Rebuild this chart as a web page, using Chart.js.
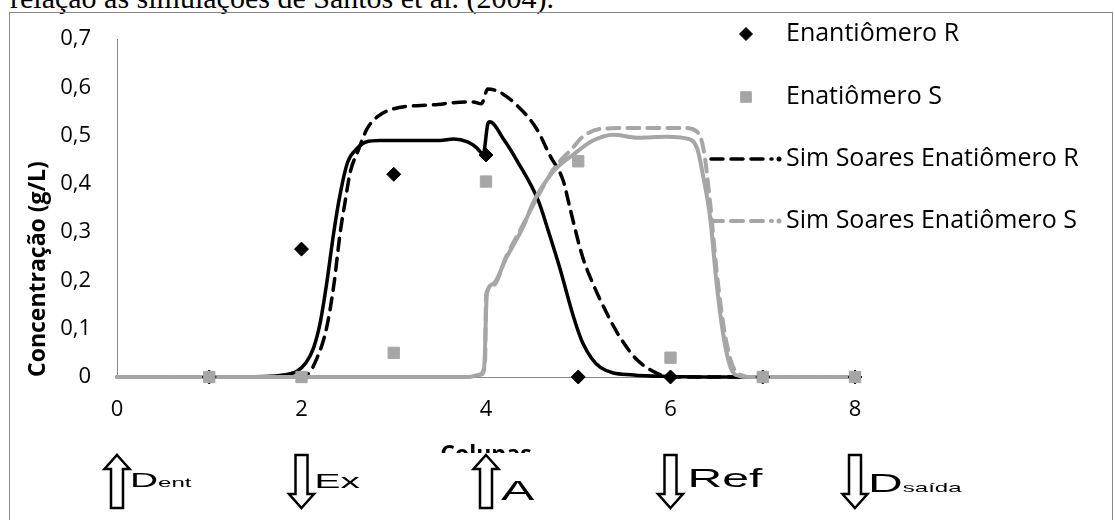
<!DOCTYPE html>
<html lang="pt-BR">
<head>
<meta charset="utf-8">
<script src="https://cdn.jsdelivr.net/npm/chart.js@4/dist/chart.umd.min.js"></script>
<style>
  html, body { margin: 0; padding: 0; background: #fff; }
  body { width: 1115px; height: 520px; position: relative; overflow: hidden; }
  #texto-acima { position: absolute; left: 10px; top: -17px; font: 30px 'Liberation Serif', 'Times New Roman', serif; line-height: 30px; white-space: nowrap; color: #000; }
  #grafico { position: absolute; left: 0; top: 0; }
  #moldura { position: absolute; left: 9px; top: 12px; width: 1104px; height: 520px; border: 1px solid #898989; box-sizing: border-box; pointer-events: none; }
</style>
</head>
<body>
<div id="texto-acima">relação às simulações de Santos et al. (2004).</div>
<canvas id="grafico" width="1115" height="520"></canvas>
<div id="moldura"></div>
<script>
// Rótulos dos eixos
const rotulosX = ['0', '2', '4', '6', '8'];
const rotulosY = ['0', '0,1', '0,2', '0,3', '0,4', '0,5', '0,6', '0,7'];

// Pontos experimentais (colunas 1 a 8)
const colunas = [1, 2, 3, 4, 5, 6, 7, 8];
const expR = [0, 0.265, 0.42, 0.46, 0, 0, 0, 0];
const expS = [0, 0, 0.05, 0.405, 0.447, 0.04, 0, 0];

// Simulação (linha cheia preta) - enantiômero R
const xSimR = [0, 1, 1.6, 1.8, 1.95, 2.05, 2.13, 2.2, 2.27, 2.35, 2.42, 2.5, 2.6, 2.7, 2.85, 3.2, 3.5, 3.65, 3.8, 3.9, 3.97, 4.02, 4.04, 4.2, 4.34, 4.57, 4.68, 4.8, 4.95, 5.05, 5.24, 5.6, 6, 6.5, 8];
const ySimR = [0, 0, 0.001, 0.004, 0.012, 0.03, 0.06, 0.11, 0.19, 0.30, 0.38, 0.445, 0.473, 0.487, 0.49, 0.49, 0.49, 0.493, 0.487, 0.475, 0.462, 0.525, 0.529, 0.49, 0.447, 0.364, 0.30, 0.226, 0.124, 0.07, 0.02, 0.004, 0.001, 0, 0];

// Simulação (linha cheia cinza) - enantiômero S
const xSimS = [0, 3.8, 3.93, 3.98, 4.01, 4.08, 4.22, 4.4, 4.52, 4.73, 4.94, 5.16, 5.38, 5.64, 5.96, 6.18, 6.29, 6.36, 6.43, 6.5, 6.57, 6.65, 6.75, 6.85, 8];
const ySimS = [0, 0, 0.005, 0.02, 0.173, 0.193, 0.247, 0.31, 0.365, 0.426, 0.46, 0.49, 0.502, 0.496, 0.498, 0.494, 0.473, 0.41, 0.33, 0.193, 0.09, 0.02, 0.002, 0, 0];

// Sim Soares - enantiômero R (tracejada preta)
const xSoaresR = [0, 1.9, 2.06, 2.17, 2.27, 2.35, 2.42, 2.47, 2.53, 2.61, 2.71, 2.82, 3.0, 3.43, 3.79, 3.86, 3.95, 4.02, 4.15, 4.33, 4.55, 4.69, 4.84, 4.91, 5.05, 5.16, 5.31, 5.45, 5.64, 5.85, 6.0, 8];
const ySoaresR = [0, 0, 0.005, 0.04, 0.10, 0.19, 0.30, 0.36, 0.426, 0.467, 0.514, 0.539, 0.556, 0.564, 0.57, 0.57, 0.566, 0.597, 0.59, 0.564, 0.514, 0.46, 0.405, 0.35, 0.247, 0.193, 0.132, 0.083, 0.035, 0.008, 0, 0];

// Sim Soares - enantiômero S (tracejada cinza)
const xSoaresS = [0, 3.8, 3.95, 3.99, 4.0, 4.08, 4.22, 4.4, 4.55, 4.73, 4.94, 5.05, 5.24, 5.6, 6.14, 6.29, 6.36, 6.43, 6.5, 6.58, 6.67, 6.78, 6.9, 8];
const ySoaresS = [0, 0, 0.005, 0.03, 0.17, 0.19, 0.25, 0.315, 0.37, 0.43, 0.475, 0.498, 0.514, 0.516, 0.516, 0.508, 0.47, 0.36, 0.22, 0.10, 0.025, 0.003, 0, 0];

// Correntes do leito móvel simulado (setas abaixo do eixo)
const colunasSetas = [0, 2, 4, 6, 8];
const sentidoSetas = ['cima', 'baixo', 'cima', 'baixo', 'baixo'];
const correntes = ['D', 'Ex', 'A', 'Ref', 'D'];
const subscritos = ['ent', '', '', '', 'saída'];

const juntar = (xs, ys) => xs.map((x, i) => ({ x: x, y: ys[i] }));

const PRETO = '#000000';
const CINZA = '#A6A6A6';
const FONTE = '"Open Sans"';

// Legenda desenhada à direita, sobreposta à área do gráfico
const legendaLateral = {
    id: 'legendaLateral',
    afterDraw(chart) {
        const ctx = chart.ctx;
        const linhas = [34, 97, 159, 221];
        let n = 0;
        ctx.save();
        chart.data.datasets.forEach(ds => {
            if (!ds.naLegenda) return;
            const y = linhas[n++];
            if (ds.showLine) {
                ctx.save();
                ctx.strokeStyle = ds.borderColor;
                ctx.lineWidth = ds.borderWidth;
                ctx.lineCap = 'round';
                ctx.setLineDash(ds.borderDash);
                ctx.beginPath();
                ctx.moveTo(711, y);
                ctx.lineTo(772, y);
                ctx.stroke();
                ctx.setLineDash([]);
                ctx.fillStyle = ds.borderColor;
                ctx.beginPath();
                ctx.arc(779, y, 2.5, 0, Math.PI * 2);
                ctx.fill();
                ctx.restore();
            } else {
                ctx.fillStyle = ds.backgroundColor;
                ctx.strokeStyle = ds.borderColor;
                Chart.helpers.drawPoint(ctx, { pointStyle: ds.pointStyle, radius: ds.pointRadius - 0.5, borderWidth: 1, rotation: 0 }, 746, y);
            }
            ctx.fillStyle = '#000';
            ctx.font = '25px ' + FONTE;
            ctx.textBaseline = 'middle';
            ctx.textAlign = 'left';
            ctx.fillText(ds.label, 786, y);
        });
        ctx.restore();
    }
};

// Setas das correntes (entrada / saída) alinhadas com o eixo x
const setasCorrentes = {
    id: 'setasCorrentes',
    afterDraw(chart) {
        const ctx = chart.ctx;
        const escalaX = chart.scales.x;
        const tamanhos = [21, 21, 27, 26, 26];
        const linhasBase = [487, 488, 500, 487, 492];
        const afastamento = [13, 13, 15, 17, 13];
        ctx.save();
        // a faixa das setas cobre parte do título do eixo, como no original
        ctx.fillStyle = '#fff';
        ctx.fillRect(12, 453, 1098, 70);

        colunasSetas.forEach((c, i) => {
            const x = escalaX.getPixelForValue(c);
            const topo = 455, base = 508, haste = 6, ponta = 12.5, cabeca = 14;
            ctx.beginPath();
            if (sentidoSetas[i] === 'cima') {
                ctx.moveTo(x, topo);
                ctx.lineTo(x + ponta, topo + cabeca);
                ctx.lineTo(x + haste, topo + cabeca);
                ctx.lineTo(x + haste, base);
                ctx.lineTo(x - haste, base);
                ctx.lineTo(x - haste, topo + cabeca);
                ctx.lineTo(x - ponta, topo + cabeca);
            } else {
                ctx.moveTo(x, base);
                ctx.lineTo(x + ponta, base - cabeca);
                ctx.lineTo(x + haste, base - cabeca);
                ctx.lineTo(x + haste, topo);
                ctx.lineTo(x - haste, topo);
                ctx.lineTo(x - haste, base - cabeca);
                ctx.lineTo(x - ponta, base - cabeca);
            }
            ctx.closePath();
            ctx.fillStyle = '#fff';
            ctx.fill();
            ctx.lineWidth = 2.5;
            ctx.strokeStyle = '#000';
            ctx.stroke();

            ctx.save();
            ctx.translate(x + afastamento[i], linhasBase[i]);
            ctx.scale(1.85, 1);
            ctx.fillStyle = '#000';
            ctx.textBaseline = 'alphabetic';
            ctx.font = tamanhos[i] + 'px "Liberation Sans"';
            ctx.fillText(correntes[i], 0, 0);
            const w = ctx.measureText(correntes[i]).width;
            if (subscritos[i]) {
                ctx.font = '13px "Liberation Sans"';
                ctx.fillText(subscritos[i], w, 0);
            }
            ctx.restore();
        });
        ctx.restore();
    }
};

Chart.defaults.font.family = FONTE;
Chart.defaults.color = '#000';

const ctx = document.getElementById('grafico').getContext('2d');
const grafico = new Chart(ctx, {
    type: 'scatter',
    data: {
        datasets: [
            {
                label: 'Enantiômero R',
                data: juntar(colunas, expR),
                pointStyle: 'rectRot',
                pointRadius: 7,
                backgroundColor: PRETO,
                borderColor: PRETO,
                borderWidth: 1,
                naLegenda: true,
                clip: false,
                order: 1
            },
            {
                label: 'Enatiômero S',
                data: juntar(colunas, expS),
                pointStyle: 'rect',
                pointRadius: 8,
                backgroundColor: CINZA,
                borderColor: CINZA,
                borderWidth: 1,
                naLegenda: true,
                clip: false,
                order: 0
            },
            {
                label: 'Sim Soares Enatiômero R',
                data: juntar(xSoaresR, ySoaresR),
                showLine: true,
                pointRadius: 0,
                borderColor: PRETO,
                borderWidth: 3.5,
                borderDash: [12, 8],
                borderCapStyle: 'round',
                cubicInterpolationMode: 'monotone',
                naLegenda: true,
                clip: false,
                order: 4
            },
            {
                label: 'Sim Soares Enatiômero S',
                data: juntar(xSoaresS, ySoaresS),
                showLine: true,
                pointRadius: 0,
                borderColor: CINZA,
                borderWidth: 4,
                borderDash: [12, 8],
                borderCapStyle: 'round',
                cubicInterpolationMode: 'monotone',
                naLegenda: true,
                clip: false,
                order: 2
            },
            {
                label: 'Simulação Enantiômero R',
                data: juntar(xSimR, ySimR),
                showLine: true,
                pointRadius: 0,
                borderColor: PRETO,
                borderWidth: 3.5,
                cubicInterpolationMode: 'monotone',
                clip: false,
                order: 5
            },
            {
                label: 'Simulação Enatiômero S',
                data: juntar(xSimS, ySimS),
                showLine: true,
                pointRadius: 0,
                borderColor: CINZA,
                borderWidth: 4,
                cubicInterpolationMode: 'monotone',
                clip: false,
                order: 3
            }
        ]
    },
    options: {
        responsive: false,
        animation: false,
        events: [],
        layout: {
            padding: { left: 14, top: 37, right: 260, bottom: 0 }
        },
        plugins: {
            legend: { display: false },
            tooltip: { enabled: false }
        },
        scales: {
            x: {
                type: 'linear',
                min: 0,
                max: 8,
                grid: { display: false, drawTicks: false },
                border: { display: true, color: '#868686', width: 1 },
                ticks: {
                    stepSize: 2,
                    padding: 20,
                    font: { size: 22 },
                    callback: (valor, i) => rotulosX[i]
                },
                title: {
                    display: true,
                    text: 'Colunas',
                    font: { size: 23, weight: 'bold' },
                    padding: { top: 0, bottom: 51 }
                },
                afterFit: (escala) => { escala.height = 143; }
            },
            y: {
                type: 'linear',
                min: 0,
                max: 0.7,
                grid: { display: false, drawTicks: false },
                border: { display: true, color: '#868686', width: 1 },
                ticks: {
                    stepSize: 0.1,
                    padding: 26,
                    font: { size: 22 },
                    callback: (valor, i) => rotulosY[i]
                },
                title: {
                    display: true,
                    text: 'Concentração (g/L)',
                    align: 'start',
                    font: { size: 23, weight: 'bold' },
                    padding: { top: 11, bottom: 0 }
                },
                afterFit: (escala) => { escala.width = 103; }
            }
        }
    },
    plugins: [legendaLateral, setasCorrentes]
});
</script>
</body>
</html>
